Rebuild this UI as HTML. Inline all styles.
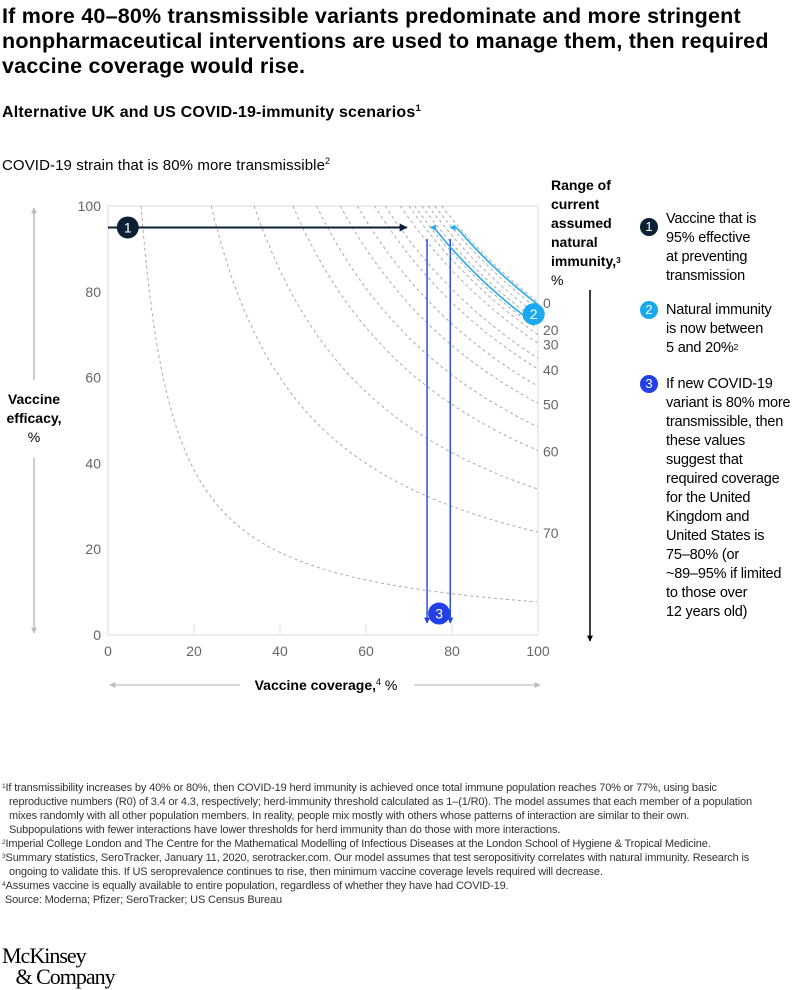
<!DOCTYPE html>
<html><head><meta charset="utf-8">
<style>
body{margin:0;width:804px;height:990px;background:#fff;font-family:"Liberation Sans",sans-serif;color:#000;position:relative;overflow:hidden}
.t{position:absolute;white-space:nowrap}
#title{left:2px;top:4px;font-size:21.5px;font-weight:bold;line-height:25px;letter-spacing:0.2px}
#sub{left:2px;top:104px;font-size:16px;font-weight:bold;letter-spacing:0.2px}
#strain{left:2px;top:157px;font-size:15px;letter-spacing:0.1px}
sup{font-size:0.6em;vertical-align:top;position:relative;top:-1px}
.leg{position:absolute;left:666px;font-size:14.5px;line-height:19px;letter-spacing:-0.2px}
.badge{position:absolute;width:18px;height:18px;border-radius:50%;color:#fff;font-size:13px;text-align:center;line-height:18px}
#foot{left:2px;top:781px;font-size:11px;line-height:14px;color:#333;white-space:normal;width:760px;letter-spacing:-0.15px}
#foot div{padding-left:7px;text-indent:-7px}
#logo{left:2px;top:945px;font-family:"Liberation Serif",serif;font-size:22px;line-height:21px;letter-spacing:-1px}
</style></head><body>
<div class="t" id="title">If more 40–80% transmissible variants predominate and more stringent<br>nonpharmaceutical interventions are used to manage them, then required<br>vaccine coverage would rise.</div>
<div class="t" id="sub">Alternative UK and US COVID-19-immunity scenarios<sup>1</sup></div>
<div class="t" id="strain">COVID-19 strain that is 80% more transmissible<sup>2</sup></div>

<div class="t" style="left:551px;top:176px;font-size:14px;font-weight:bold;line-height:19px">Range of<br>current<br>assumed<br>natural<br>immunity,<sup>3</sup><br><span style="font-weight:normal">%</span></div>

<div class="badge" style="left:640px;top:218px;background:#0b1f35">1</div>
<div class="leg" style="top:210px">Vaccine that is<br>95% effective<br>at preventing<br>transmission</div>
<div class="badge" style="left:640px;top:301px;background:#1ba8f0">2</div>
<div class="leg" style="top:301px">Natural immunity<br>is now between<br>5 and 20%<sup>2</sup></div>
<div class="badge" style="left:640px;top:375px;background:#2140e8">3</div>
<div class="leg" style="top:375px">If new COVID-19<br>variant is 80% more<br>transmissible, then<br>these values<br>suggest that<br>required coverage<br>for the United<br>Kingdom and<br>United States is<br>75–80% (or<br>~89–95% if limited<br>to those over<br>12 years old)</div>

<svg id="chart" width="804" height="990" style="position:absolute;left:0;top:0"></svg>

<div class="t" id="foot">
<div><sup>1</sup>If transmissibility increases by 40% or 80%, then COVID-19 herd immunity is achieved once total immune population reaches 70% or 77%, using basic reproductive numbers (R0) of 3.4 or 4.3, respectively; herd-immunity threshold calculated as 1–(1/R0). The model assumes that each member of a population mixes randomly with all other population members. In reality, people mix mostly with others whose patterns of interaction are similar to their own. Subpopulations with fewer interactions have lower thresholds for herd immunity than do those with more interactions.</div>
<div><sup>2</sup>Imperial College London and The Centre for the Mathematical Modelling of Infectious Diseases at the London School of Hygiene &amp; Tropical Medicine.</div>
<div><sup>3</sup>Summary statistics, SeroTracker, January 11, 2020, serotracker.com. Our model assumes that test seropositivity correlates with natural immunity. Research is ongoing to validate this. If US seroprevalence continues to rise, then minimum vaccine coverage levels required will decrease.</div>
<div><sup>4</sup>Assumes vaccine is equally available to entire population, regardless of whether they have had COVID-19.</div>
<div>&nbsp;Source: Moderna; Pfizer; SeroTracker; US Census Bureau</div>
</div>
<div class="t" id="logo">McKinsey<br>&nbsp;&nbsp;&nbsp;&amp; Company</div>

<script>
const curveK = [7.7, 24, 34, 43, 48.5, 54, 58, 62, 64.5, 68, 70, 71.3, 73, 74.5, 76, 77.6];
const immunityLabels = ["0", "20", "30", "40", "50", "60", "70"];
const immunityK = [77.6, 71.3, 68, 62, 54, 43, 24];
const xTicks = [0, 20, 40, 60, 80, 100];
const yTicks = [0, 20, 40, 60, 80, 100];
const efficacyLine = {from: 0, to: 69.5, y: 95, badgeX: 4.6};
const coverageRange = [74.2, 79.6];
const coverageLineTop = 92.3, coverageLineBottom = 2.8, badge3 = [77, 5];
const immunityArrowsK = [77, 72];
const immunityArrowsStart = [100, 98];
const immunityArrowsTip = [79.6, 75];
const badge2 = [99, 74.8];

const X0 = 108, X1 = 538, Y0 = 635, Y1 = 206;
const xS = v => X0 + v / 100 * (X1 - X0);
const yS = v => Y0 - v / 100 * (Y0 - Y1);
const svg = document.getElementById('chart');
const NS = 'http://www.w3.org/2000/svg';
function mk(tag, attrs, parent) {
  const e = document.createElementNS(NS, tag);
  for (const k in attrs) e.setAttribute(k, attrs[k]);
  (parent || svg).appendChild(e);
  return e;
}
const defs = mk('defs', {});
function marker(id, color) {
  const m = mk('marker', {id: id, viewBox: '0 0 10 10', refX: 9, refY: 5, markerWidth: 4, markerHeight: 4, orient: 'auto', markerUnits: 'strokeWidth'}, defs);
  mk('path', {d: 'M0,0 L10,5 L0,10 z', fill: color}, m);
}
marker('mNavy', '#0b1f35'); marker('mBlue', '#2140e8'); marker('mLight', '#1ba8f0'); marker('mGray', '#bbb'); marker('mBlack', '#000');

const frame = mk('rect', {x: X0, y: Y1, width: X1 - X0, height: Y0 - Y1, fill: 'none', stroke: '#ddd', 'stroke-width': 1});



xTicks.forEach(v => {
  const tl = mk('line', {x1: xS(v), x2: xS(v), y1: Y0, y2: Y0 - 10, stroke: '#ddd'});
  
  
  const t = mk('text', {x: xS(v), y: Y0 + 21, 'text-anchor': 'middle', 'font-size': 14, fill: '#666', 'font-family': 'Liberation Sans, sans-serif'});
  t.textContent = v;
  
  
});
yTicks.forEach(v => {
  const t = mk('text', {x: 101, y: yS(v) + 5, 'text-anchor': 'end', 'font-size': 14, fill: '#666', 'font-family': 'Liberation Sans, sans-serif'});
  t.textContent = v;
  
  
});

curveK.forEach(k => {
  let d = '';
  for (let x = k; x <= 100.001; x += 0.5) {
    const y = k / x * 100;
    d += (d ? 'L' : 'M') + xS(x).toFixed(1) + ',' + yS(y).toFixed(1);
  }
  const p = mk('path', {d: d, fill: 'none', stroke: '#aaa', 'stroke-width': 1, 'stroke-dasharray': '3,3'});
  
  
});
immunityLabels.forEach((lab, i) => {
  const t = mk('text', {x: 543, y: yS(immunityK[i]) + 6, 'font-size': 14, fill: '#666', 'font-family': 'Liberation Sans, sans-serif'});
  t.textContent = lab;
  
  
});

const ea = mk('line', {x1: xS(efficacyLine.from), x2: xS(efficacyLine.to), y1: yS(efficacyLine.y), y2: yS(efficacyLine.y), stroke: '#0b1f35', 'stroke-width': 2, 'marker-end': 'url(#mNavy)'});



coverageRange.forEach(v => {
  const l = mk('line', {x1: xS(v), x2: xS(v), y1: yS(coverageLineTop), y2: yS(coverageLineBottom), stroke: '#2b4ee8', 'stroke-width': 1.5, 'marker-end': 'url(#mBlue)'});
  
  
});

immunityArrowsK.forEach((k, i) => {
  let d = '';
  const xs = immunityArrowsStart[i], xe = immunityArrowsTip[i];
  for (let j = 0; j <= 30; j++) {
    const x = xs + (xe - xs) * j / 30;
    const y = k / x * 100;
    d += (d ? 'L' : 'M') + xS(x).toFixed(1) + ',' + yS(Math.min(y, 95)).toFixed(1);
  }
  const p = mk('path', {d: d, fill: 'none', stroke: '#1ba8f0', 'stroke-width': 1.5, 'marker-end': 'url(#mLight)'});
  
  
});

function badge(cx, cy, color, txt, name) {
  const g = mk('g', {});
  
  
  mk('circle', {cx: cx, cy: cy, r: 11, fill: color}, g);
  const t = mk('text', {x: cx, y: cy + 5, 'text-anchor': 'middle', 'font-size': 14, fill: '#fff', 'font-family': 'Liberation Sans, sans-serif'}, g);
  t.textContent = txt;
}
badge(xS(efficacyLine.badgeX), yS(efficacyLine.y), '#0b1f35', '1', 'badge-1');
badge(xS(badge2[0]), yS(badge2[1]), '#1ba8f0', '2', 'badge-2');
badge(xS(badge3[0]), yS(badge3[1]), '#2140e8', '3', 'badge-3');

const la1 = mk('line', {x1: 34, x2: 34, y1: 380, y2: 208, stroke: '#bbb', 'stroke-width': 1.5, 'marker-end': 'url(#mGray)'});


const la2 = mk('line', {x1: 34, x2: 34, y1: 458, y2: 633, stroke: '#bbb', 'stroke-width': 1.5, 'marker-end': 'url(#mGray)'});


const yt = mk('text', {x: 34, y: 404, 'text-anchor': 'middle', 'font-size': 14, 'font-family': 'Liberation Sans, sans-serif'});


[['Vaccine', 'bold', 0], ['efficacy,', 'bold', 19], ['%', 'normal', 38]].forEach(a => {
  const ts = mk('tspan', {x: 34, dy: a[2] ? 19 : 0, 'font-weight': a[1]}, yt);
  ts.textContent = a[0];
});
const ba1 = mk('line', {x1: 240, x2: 110, y1: 685, y2: 685, stroke: '#ccc', 'stroke-width': 1.5, 'marker-end': 'url(#mGray)'});


const ba2 = mk('line', {x1: 414, x2: 540, y1: 685, y2: 685, stroke: '#ccc', 'stroke-width': 1.5, 'marker-end': 'url(#mGray)'});


const xt = mk('text', {x: 326, y: 690, 'text-anchor': 'middle', 'font-size': 14, 'font-family': 'Liberation Sans, sans-serif'});


const xt1 = mk('tspan', {'font-weight': 'bold'}, xt); xt1.textContent = 'Vaccine coverage,';
const xt2 = mk('tspan', {'font-size': 9, dy: -5}, xt); xt2.textContent = '4';
const xt3 = mk('tspan', {dy: 5}, xt); xt3.textContent = ' %';
const da = mk('line', {x1: 590, x2: 590, y1: 290, y2: 641, stroke: '#000', 'stroke-width': 1.5, 'marker-end': 'url(#mBlack)'});


</script>
</body></html>
